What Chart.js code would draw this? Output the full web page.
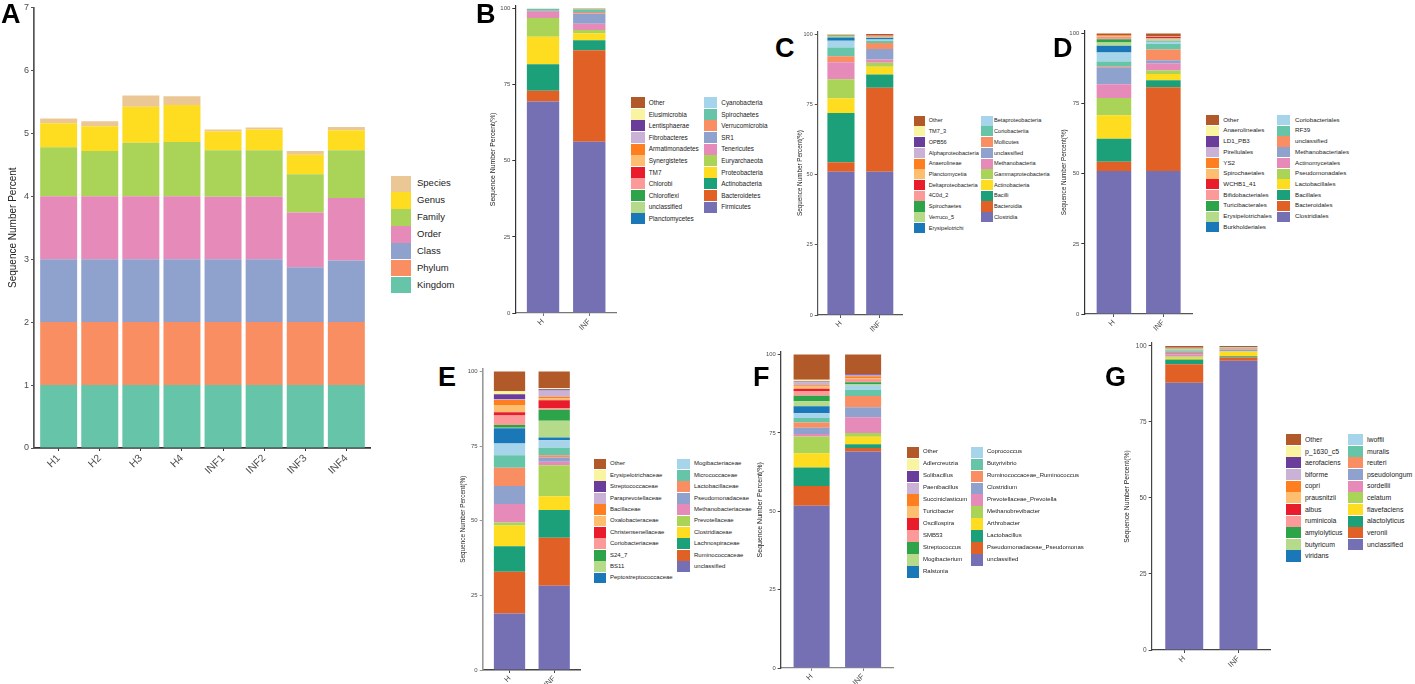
<!DOCTYPE html>
<html>
<head>
<meta charset="utf-8">
<title>Sequence number percent</title>
<script src="https://cdn.jsdelivr.net/npm/chart.js@4"></script>
<style>
  html, body { margin: 0; background: #fff; }
  #page { position: relative; width: 1415px; height: 684px; overflow: hidden; font-family: "Liberation Sans", Arial, sans-serif; }
  #page canvas { position: absolute; }
  .letter { position: absolute; font-weight: bold; font-size: 27px; line-height: 27px; color: #000; }
  .swatch { position: absolute; }
  .name { position: absolute; white-space: nowrap; color: #222; }
</style>
</head>
<body>
<div id="page"></div>
<script>
// tick labels
const sampleLabels = ["H1", "H2", "H3", "H4", "INF1", "INF2", "INF3", "INF4"]
const groupLabels = ["H", "INF"]
const levelTicks = [0, 1, 2, 3, 4, 5, 6, 7]
const percentTicks = [0, 25, 50, 75, 100]

// panel A, one list per level, bottom of the stack first
const levels = ["Kingdom", "Phylum", "Class", "Order", "Family", "Genus", "Species"]
const kingdom = [1, 1, 1, 1, 1, 1, 1, 1]
const phylum = [1, 1, 1, 1, 1, 1, 1, 1]
const classLevel = [1, 1, 1, 1, 1, 1, 0.87, 0.98]
const order = [1, 1, 1, 1, 0.99, 0.99, 0.87, 0.99]
const family = [0.78, 0.72, 0.85, 0.86, 0.74, 0.74, 0.61, 0.76]
const genus = [0.38, 0.39, 0.57, 0.59, 0.3, 0.33, 0.31, 0.32]
const species = [0.075, 0.08, 0.18, 0.14, 0.03, 0.03, 0.06, 0.05]

// panels B-G, bottom of the stack first
const phylumTaxa = ["Firmicutes", "Bacteroidetes", "Actinobacteria", "Proteobacteria", "Euryarchaeota", "Tenericutes", "SR1", "Verrucomicrobia", "Spirochaetes", "Cyanobacteria", "Planctomycetes", "unclassified", "Chloroflexi", "Chlorobi", "TM7", "Synergistetes", "Armatimonadetes", "Fibrobacteres", "Lentisphaerae", "Elusimicrobia", "Other"]
const phylumH = [69.5, 3.5, 8.7, 9.1, 6.1, 2.1, 0.2, 0.1, 0.6, 0.05, 0.01, 0.01, 0.01, 0.01, 0.01, 0.01, 0.01, 0.01, 0.01, 0.01, 0.01]
const phylumINF = [56.3, 30, 3.3, 2.3, 1.1, 2, 3.4, 0.5, 0.8, 0.03, 0.01, 0.01, 0.01, 0.01, 0.01, 0.1, 0.08, 0.01, 0.01, 0.02, 0.02]

const classTaxa = ["Clostridia", "Bacteroidia", "Bacilli", "Actinobacteria", "Gammaproteobacteria", "Methanobacteria", "unclassified", "Mollicutes", "Coriobacteriia", "Betaproteobacteria", "Erysipelotrichi", "Verruco_5", "Spirochaetes", "4C0d_2", "Deltaproteobacteria", "Planctomycetia", "Anaerolineae", "Alphaproteobacteria", "OPB56", "TM7_3", "Other"]
const classH = [51, 3.4, 17.5, 5.3, 6.7, 6.1, 0.1, 2, 3.1, 2.4, 1.2, 0.35, 0.35, 0.12, 0.02, 0.2, 0.05, 0.05, 0.02, 0.03, 0.05]
const classINF = [51, 29.9, 4.7, 2.8, 1.4, 1.2, 3.7, 2.1, 0.8, 0.5, 0.5, 0.2, 0.2, 0.2, 0.3, 0.05, 0.03, 0.02, 0.02, 0.02, 0.36]

const orderTaxa = ["Clostridiales", "Bacteroidales", "Bacillales", "Lactobacillales", "Pseudomonadales", "Actinomycetales", "Methanobacteriales", "unclassified", "RF39", "Coriobacteriales", "Burkholderiales", "Erysipelotrichales", "Turicibacterales", "Bifidobacteriales", "WCHB1_41", "Spirochaetales", "YS2", "Pirellulales", "LD1_PB3", "Anaerolineales", "Other"]
const orderH = [51, 3.3, 8.2, 8.3, 6.2, 4.9, 6, 0.4, 1.7, 3.2, 2.4, 1.2, 1.1, 0.6, 0.2, 0.35, 0.25, 0.05, 0.05, 0.05, 0.55]
const orderINF = [51, 29.8, 2.5, 2.2, 1.3, 2.6, 1, 3.9, 2, 0.7, 0.2, 0.7, 0.1, 0.3, 0.4, 0.1, 0.1, 0.03, 0.02, 0.05, 0.95]

const familyTaxa = ["unclassified", "Ruminococcaceae", "Lachnospiraceae", "Clostridiaceae", "Prevotellaceae", "Methanobacteriaceae", "Pseudomonadaceae", "Lactobacillaceae", "Micrococcaceae", "Mogibacteriaceae", "Peptostreptococcaceae", "BS11", "S24_7", "Coriobacteriaceae", "Christensenellaceae", "Oxalobacteraceae", "Bacillaceae", "Paraprevotellaceae", "Streptococcaceae", "Erysipelotrichaceae", "Other"]
const familyH = [18.9, 14, 8.6, 6.9, 1, 6.2, 6.1, 6.1, 4.2, 3.9, 5.1, 0.2, 0.9, 3.2, 1.1, 2.4, 1.7, 0.3, 1.6, 1, 6.6]
const familyINF = [28.2, 16.1, 9.3, 4.6, 10.4, 1.2, 1.4, 0.8, 2.5, 2.5, 0.9, 5.6, 3.7, 0.6, 2.6, 0.6, 0.6, 2.1, 0.4, 0.4, 5.5]

const genusTaxa = ["unclassified", "Pseudomonadaceae_Pseudomonas", "Lactobacillus", "Arthrobacter", "Methanobrevibacter", "Prevotellaceae_Prevotella", "Clostridium", "Ruminococcaceae_Ruminococcus", "Butyrivibrio", "Coprococcus", "Ralstonia", "Mogibacterium", "Streptococcus", "SMB53", "Oscillospira", "Turicibacter", "Succiniclasticum", "Paenibacillus", "Solibacillus", "Adlercreutzia", "Other"]
const genusH = [51.8, 6.3, 5.9, 4.5, 5.4, 0.8, 2, 1.6, 1.5, 1.5, 2.2, 1.6, 1.8, 1.5, 0.7, 0.9, 0.2, 1, 0.2, 0.6, 8]
const genusINF = [69.1, 1.1, 1.2, 2.4, 1.2, 5, 3.2, 3.6, 2, 1.4, 0.1, 0.3, 0.6, 0.5, 0.3, 0.4, 0.7, 0.2, 0.4, 0.1, 6.2]

const speciesTaxa = ["unclassified", "veronii", "alactolyticus", "flavefaciens", "celatum", "sordellii", "pseudolongum", "reuteri", "muralis", "lwoffii", "viridans", "butyricum", "amylolyticus", "ruminicola", "albus", "prausnitzii", "copri", "biforme", "aerofaciens", "p_1630_c5", "Other"]
const speciesH = [87.9, 6.1, 1.5, 0.6, 0.4, 0.8, 0.4, 0.4, 0.4, 0.1, 0.1, 0.2, 0.2, 0.1, 0.02, 0.05, 0.1, 0.05, 0.05, 0.03, 0.5]
const speciesINF = [95.1, 1.1, 0.4, 1.5, 0.15, 0.1, 0.45, 0.4, 0.2, 0.1, 0.02, 0.01, 0.01, 0.01, 0.01, 0.01, 0.01, 0.01, 0.01, 0.01, 0.4]

const levelColors = ["#66c4a9", "#f98e63", "#8fa2cd", "#e68ab9", "#aad457", "#fedc1f", "#ebc795"]
const taxaColors = ["#7570b3", "#e06026", "#1ba07a", "#fedc1f", "#aad457", "#e68ab9", "#8fa2cd", "#f98e63", "#66c4a9", "#a6d4ea", "#1a78b8", "#b5db8a", "#2ea44a", "#fb9a99", "#e81c2a", "#fdbf6f", "#ff7f20", "#cab2d6", "#6a3d9a", "#f8f4a0", "#b15928"]

const sans = "'Liberation Sans', Arial, sans-serif"

// layout of each panel, in page pixels
const panels = [
  { id: "A", letter: [1, 4], labels: sampleLabels, names: levels, rows: [kingdom, phylum, classLevel, order, family, genus, species], colors: levelColors,
    yTicks: levelTicks, yMax: 7, titleX: 13, axisX: 34, axisRight: 371, top: 5.7, y0: 448.3, ratio: 0.9, titleSize: 10, tickSize: 9, xTickSize: 10.5, yAxisColor: "#555", xAxisColor: "#333", axisWidth: 1.7,
    legend: { rows: [levels.length], x: [391], text: [417], w: 19.7, y: 183.7, h: 16.9, size: 9.5 } },
  { id: "B", letter: [476, 4], labels: groupLabels, names: phylumTaxa, rows: [phylumH, phylumINF], colors: taxaColors,
    yTicks: percentTicks, yMax: 101, titleX: 494, axisX: 515.3, axisRight: 617, top: 5, y0: 312.7, ratio: 0.7, titleSize: 6.9, tickSize: 6, xTickSize: 7.8, yAxisColor: "#333", xAxisColor: "#777", axisWidth: 1.2,
    legend: { rows: [11, 10], x: [631.3, 704], text: [648.7, 721.3], w: 13.3, y: 102.7, h: 11.6, size: 6.4 } },
  { id: "C", letter: [775, 38], labels: groupLabels, names: classTaxa, rows: [classH, classINF], colors: taxaColors,
    yTicks: percentTicks, yMax: 101, titleX: 800, axisX: 817.7, axisRight: 902.7, top: 31.3, y0: 315, ratio: 0.7, titleSize: 6.3, tickSize: 5.5, xTickSize: 7.5, yAxisColor: "#555", xAxisColor: "#555", axisWidth: 1.2,
    legend: { rows: [11, 10], x: [914, 981.3], text: [928.7, 994], w: 11.3, y: 120.7, h: 10.73, size: 5.6 } },
  { id: "D", letter: [1053, 38], labels: groupLabels, names: orderTaxa, rows: [orderH, orderINF], colors: taxaColors,
    yTicks: percentTicks, yMax: 101, titleX: 1064, axisX: 1084.3, axisRight: 1192.7, top: 30, y0: 314, ratio: 0.7, titleSize: 6.3, tickSize: 6, xTickSize: 7.5, yAxisColor: "#333", xAxisColor: "#555", axisWidth: 1.2,
    legend: { rows: [11, 10], x: [1206, 1277.3], text: [1223.3, 1295], w: 13, y: 120, h: 10.73, size: 6.2 } },
  { id: "E", letter: [438, 367], labels: groupLabels, names: familyTaxa, rows: [familyH, familyINF], colors: taxaColors,
    yTicks: percentTicks, yMax: 101, titleX: 463, axisX: 482.7, axisRight: 580.7, top: 368.3, y0: 670.3, ratio: 0.7, titleSize: 6.4, tickSize: 6, xTickSize: 7.5, yAxisColor: "#999", xAxisColor: "#444", axisWidth: 1.6,
    legend: { rows: [11, 10], x: [594, 677.3], text: [610, 694], w: 12.3, y: 464, h: 11.4, size: 6 } },
  { id: "F", letter: [753, 367], labels: groupLabels, names: genusTaxa, rows: [genusH, genusINF], colors: taxaColors,
    yTicks: percentTicks, yMax: 101, titleX: 761, axisX: 780.7, axisRight: 894, top: 351.7, y0: 668.3, ratio: 0.7, titleSize: 7, tickSize: 5.8, xTickSize: 7.8, yAxisColor: "#444", xAxisColor: "#888", axisWidth: 1.3,
    legend: { rows: [11, 10], x: [907, 971], text: [923, 987], w: 12, y: 452.3, h: 11.97, size: 6 } },
  { id: "G", letter: [1105, 367], labels: groupLabels, names: speciesTaxa, rows: [speciesH, speciesINF], colors: taxaColors,
    yTicks: percentTicks, yMax: 101, titleX: 1128, axisX: 1151.7, axisRight: 1271.3, top: 342.3, y0: 650, ratio: 0.7, titleSize: 6.8, tickSize: 6.5, xTickSize: 7.8, yAxisColor: "#444", xAxisColor: "#444", axisWidth: 1.2,
    legend: { rows: [11, 10], x: [1286, 1348], text: [1305, 1367], w: 14.7, y: 439.7, h: 11.63, size: 6.9 } }
]

const page = document.getElementById("page")
const topPad = 5
const xAxisHeight = 32

function addLetter(p) {
  const el = document.createElement("div")
  el.className = "letter"
  el.textContent = p.id
  el.style.left = p.letter[0] + "px"
  el.style.top = (p.letter[1] - 3) + "px"
  page.appendChild(el)
}

// the legend lists the stack from the top down, running over into the next column
function addLegend(p) {
  const lg = p.legend
  const reversed = p.names.map((n, i) => ({ name: n, color: p.colors[i] })).reverse()
  let k = 0
  lg.rows.forEach((count, col) => {
    for (let r = 0; r < count; r++) {
      const item = reversed[k++]
      const cy = lg.y + r * lg.h
      const sw = document.createElement("div")
      sw.className = "swatch"
      sw.style.cssText = `left:${lg.x[col]}px;top:${cy - lg.h / 2 + 0.3}px;width:${lg.w}px;height:${lg.h - 0.6}px;background:${item.color}`
      page.appendChild(sw)
      const tx = document.createElement("div")
      tx.className = "name"
      tx.textContent = item.name
      tx.style.cssText = `left:${lg.text[col]}px;top:${cy - lg.h / 2}px;line-height:${lg.h}px;font-size:${lg.size}px`
      page.appendChild(tx)
    }
  })
}

function addChart(p) {
  const left = Math.floor(p.titleX - p.titleSize * 0.6)
  const width = Math.round(p.axisRight - left)
  const plotH = p.y0 - p.top
  const height = Math.round(plotH + topPad + xAxisHeight)
  const canvas = document.createElement("canvas")
  canvas.width = width
  canvas.height = height
  canvas.style.left = left + "px"
  canvas.style.top = (p.y0 + xAxisHeight - height) + "px"
  page.appendChild(canvas)

  const grid = (color) => ({ display: true, offset: false, drawOnChartArea: false, drawTicks: true, tickLength: 3, tickColor: color, tickWidth: 1 })
  new Chart(canvas, {
    type: "bar",
    data: {
      datasets: p.names.map((name, i) => ({
        label: name,
        backgroundColor: p.colors[i],
        borderWidth: 0,
        // one value per sample in panel A, one per group in the others
        data: p.labels.map((l, j) => ({ x: j + 1, y: p.rows.length === p.labels.length ? p.rows[j][i] : p.rows[i][j] }))
      }))
    },
    options: {
      responsive: false,
      animation: false,
      events: [],
      layout: { autoPadding: false, padding: { top: height - plotH - xAxisHeight, left: 0, right: 0, bottom: 0 } },
      plugins: { legend: { display: false }, tooltip: { enabled: false } },
      datasets: { bar: { categoryPercentage: p.ratio, barPercentage: 1 } },
      scales: {
        x: {
          type: "linear",
          stacked: true,
          offset: false,
          min: 0.4,
          max: p.labels.length + 0.6,
          grid: grid(p.xAxisColor),
          border: { display: true, color: p.xAxisColor, width: p.axisWidth },
          afterBuildTicks: (s) => { s.ticks = p.labels.map((l, i) => ({ value: i + 1 })) },
          afterFit: (s) => { s.height = xAxisHeight },
          ticks: {
            callback: (v) => p.labels[v - 1],
            minRotation: 45,
            maxRotation: 45,
            padding: 1,
            color: "#4d4d4d",
            font: { size: p.xTickSize, family: sans }
          }
        },
        y: {
          stacked: true,
          min: 0,
          max: p.yMax,
          grid: grid(p.yAxisColor),
          border: { display: true, color: p.yAxisColor, width: p.axisWidth },
          afterBuildTicks: (s) => { s.ticks = p.yTicks.map((v) => ({ value: v })) },
          afterFit: (s) => { s.width = p.axisX - left },
          title: {
            display: true,
            text: p.id === "A" ? "Sequence Number Percent" : "Sequence Number Percent(%)",
            color: "#222",
            padding: 0,
            font: { size: p.titleSize, family: sans }
          },
          ticks: {
            padding: 2,
            color: "#4d4d4d",
            font: { size: p.tickSize, family: sans }
          }
        }
      }
    }
  })
}

panels.forEach((p) => {
  addChart(p)
  addLegend(p)
  addLetter(p)
})
</script>
</body>
</html>
